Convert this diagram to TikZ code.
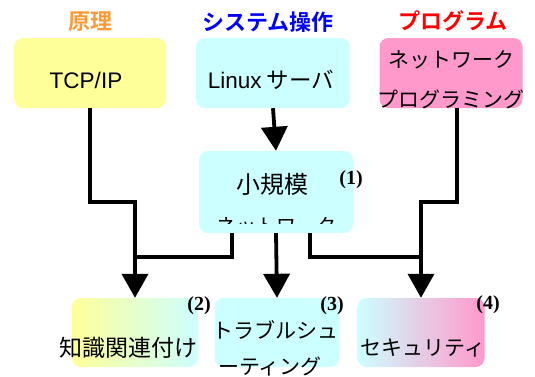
\documentclass[tikz,border=0pt]{standalone}
\usepackage{fontspec}
\setmainfont{Noto Sans CJK JP}[BoldFont={Noto Sans CJK JP Bold}]
\newfontfamily\latinfont{Liberation Sans}
\newfontfamily\numfont{Liberation Serif}
\usetikzlibrary{arrows.meta}
\definecolor{boxyellow}{HTML}{FFFF99}
\definecolor{boxcyan}{HTML}{CCFFFF}
\definecolor{boxpink}{HTML}{FF99CC}
\definecolor{headorange}{HTML}{FF9933}
\definecolor{headblue}{HTML}{0000FF}
\definecolor{headred}{HTML}{FF0000}
\newcommand{\jp}[1][21]{\fontsize{#1}{#1}\selectfont}

\begin{document}
\begin{tikzpicture}[x=1pt,y=-1pt,
  box/.style={rounded corners=9pt, inner sep=0pt, minimum height=70pt},
  head/.style={font={\jp[22]\bfseries}},
  num/.style={font=\numfont\fontsize{20}{20}\selectfont\bfseries},
  line/.style={line width=3.8pt},
  link/.style={line, -{Triangle[width=26pt,length=24pt]}}]
\useasboundingbox (0,0) rectangle (535,376);
% headings
\node [head, text=headorange] (genri) at (90,22) {原理};
\node [head, text=headblue] (sousa) at (268,22) {システム操作};
\node [head, text=headred] (program) at (453,21) {プログラム};
% top row
\node [box, fill=boxyellow, minimum width=152pt] (tcp) at (90,73) {};
\node [box, fill=boxcyan, minimum width=154pt] (linux) at (273,73) {};
\node [box, fill=boxpink, minimum width=143pt] (net) at (451,73) {};
\node [font=\latinfont\fontsize{22.5}{22.5}\selectfont] (tcptext) at (86,80) {TCP/IP};
\node [font={\jp[22.5]}] (linuxtext) at (271,80) {{\latinfont Linux} サーバ};
\node [font=\jp] (nettext) at (451,60) {ネットワーク};
\node [font=\jp] (nettextb) at (451,99) {プログラミング};
% middle box
\node [box, fill=boxcyan, minimum width=154pt, minimum height=82pt] (small) at (276,192) {};
\node [font={\jp[24]}] (smalltext) at (272,184) {小規模};
\begin{scope}
\clip (150,150) rectangle (400,223);
\node [font={\jp[20]}] (smalltextb) at (276,226) {ネットワーク};
\end{scope}
\node [num] (one) at (351,180) {(1)};
% bottom row
\node [box, left color=boxyellow, right color=boxcyan, minimum width=126pt, minimum height=69pt] (kanren) at (135,332.5) {};
\node [box, fill=boxcyan, minimum width=125pt, minimum height=69pt] (trouble) at (277,332.5) {};
\node [box, left color=boxcyan, right color=boxpink, minimum width=127pt, minimum height=69pt] (security) at (421,332.5) {};
\node [font={\jp[23]}] (kanrentext) at (128,348) {知識関連付け};
\node [font=\jp] (troubletext) at (275,330) {トラブルシュ};
\node [font=\jp] (troubletextb) at (270,366) {ーティング};
\node [font=\jp] (securitytext) at (423,348) {セキュリティ};
\node [num] (two) at (199,306) {(2)};
\node [num] (three) at (332,306) {(3)};
\node [num] (four) at (488,305) {(4)};
% connectors
\draw [link] (linux.south) -- (small.north);
\draw [link] (tcp.south) -- ++(0,94) -| (kanren.north);
\draw [link] (net.south -| 457,0) -- ++(0,94) -| (security.north);
\draw [link] (small.south) -- (trouble.north);
\draw [line] ([xshift=-44pt]small.south) |- (kanren.north |- 0,257);
\draw [line] ([xshift=34pt]small.south) |- (security.north |- 0,257);
\end{tikzpicture}
\end{document}
